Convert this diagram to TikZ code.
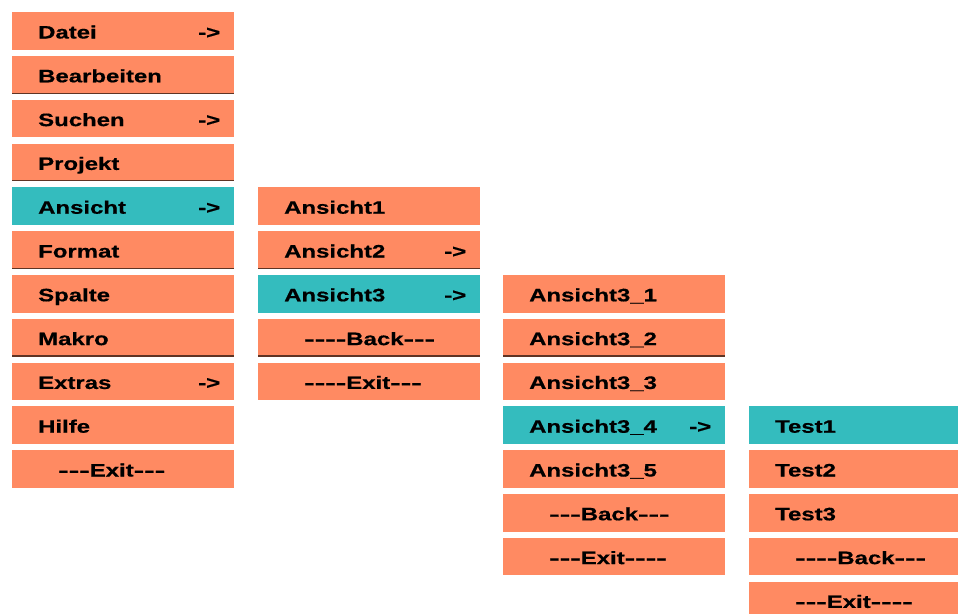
\documentclass[tikz,border=0pt]{standalone}
\usepackage{fontspec}
\newfontfamily\menufont[FakeStretch=1.33,FakeBold=0.6]{Liberation Sans}
\definecolor{menuorange}{RGB}{255,138,98}
\definecolor{menuteal}{RGB}{52,188,190}
\definecolor{menuline}{RGB}{95,52,36}
\tikzset{
  mbox/.style={rectangle, fill=menuorange, draw=none, anchor=north west,
    minimum width=222pt, minimum height=37.5pt, inner sep=0pt},
  sel/.style={fill=menuteal},
  mtext/.style={anchor=base west, inner sep=0pt,
    font=\menufont\bfseries\fontsize{18}{20}\selectfont, text=black},
  marrow/.style={mtext, anchor=base east},
  botline/.style={draw=menuline, line width=1.1pt}
}
\newcommand\hy{\scalebox{1.32}[1]{-}}
\newcommand\mkitem[5]{%
  \node[mbox,#4] (#1) at (#2,{12+43.8*#3}) {};
  \node[mtext] (#1-t) at ([xshift=26pt,yshift=-26.5pt]#1.north west) {#5};
}
\newcommand\mkdash[4]{%
  \node[mbox] (#1) at (#2,{12+43.8*#3}) {};
  \node[mtext] (#1-t) at ([xshift=46pt,yshift=-26.5pt]#1.north west) {#4};
}
\newcommand\mkarrow[1]{%
  \node[marrow] (#1-a) at ([xshift=-14pt,yshift=-26.5pt]#1.north east) {->};
}
\newcommand\mkline[1]{%
  \draw[botline] ([yshift=0.5pt]#1.south west) -- ([yshift=0.5pt]#1.south east);
}
\begin{document}
\begin{tikzpicture}[x=1pt,y=-1pt]
\useasboundingbox (0,0) rectangle (958,613);
\clip (0,0) rectangle (958,613);
% column 1
\mkitem{datei}{12}{0}{}{Datei}\mkarrow{datei}
\mkitem{bearb}{12}{1}{}{Bearbeiten}\mkline{bearb}
\mkitem{suchen}{12}{2}{}{Suchen}\mkarrow{suchen}
\mkitem{projekt}{12}{3}{}{Projekt}\mkline{projekt}
\mkitem{ansicht}{12}{4}{sel}{Ansicht}\mkarrow{ansicht}
\mkitem{format}{12}{5}{}{Format}\mkline{format}
\mkitem{spalte}{12}{6}{}{Spalte}
\mkitem{makro}{12}{7}{}{Makro}\mkline{makro}
\mkitem{extras}{12}{8}{}{Extras}\mkarrow{extras}
\mkitem{hilfe}{12}{9}{}{Hilfe}
\mkdash{exitA}{12}{10}{\hy\hy\hy Exit\hy\hy\hy}
% column 2
\mkitem{ans1}{258}{4}{}{Ansicht1}
\mkitem{ans2}{258}{5}{}{Ansicht2}\mkarrow{ans2}\mkline{ans2}
\mkitem{ans3}{258}{6}{sel}{Ansicht3}\mkarrow{ans3}
\mkdash{backB}{258}{7}{\hy\hy\hy\hy Back\hy\hy\hy}\mkline{backB}
\mkdash{exitB}{258}{8}{\hy\hy\hy\hy Exit\hy\hy\hy}
% column 3
\mkitem{a31}{503}{6}{}{Ansicht3\_1}
\mkitem{a32}{503}{7}{}{Ansicht3\_2}\mkline{a32}
\mkitem{a33}{503}{8}{}{Ansicht3\_3}
\mkitem{a34}{503}{9}{sel}{Ansicht3\_4}\mkarrow{a34}
\mkitem{a35}{503}{10}{}{Ansicht3\_5}
\mkdash{backC}{503}{11}{\hy\hy\hy Back\hy\hy\hy}
\mkdash{exitC}{503}{12}{\hy\hy\hy Exit\hy\hy\hy\hy}
% column 4
\mkitem{test1}{749}{9}{sel}{Test1}
\mkitem{test2}{749}{10}{}{Test2}
\mkitem{test3}{749}{11}{}{Test3}
\mkdash{backD}{749}{12}{\hy\hy\hy\hy Back\hy\hy\hy}
\mkdash{exitD}{749}{13}{\hy\hy\hy Exit\hy\hy\hy\hy}
\end{tikzpicture}
\end{document}
